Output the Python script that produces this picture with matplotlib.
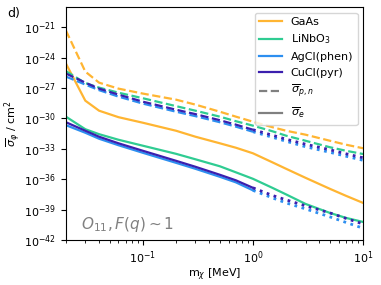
import numpy as np
import matplotlib
matplotlib.use("Agg")
import matplotlib.pyplot as plt
from matplotlib.lines import Line2D
from matplotlib.ticker import NullLocator

# ===== DATA (log10 of cross section in cm^2) =====
mass_full = [0.02, 0.03, 0.04, 0.06, 0.1, 0.2, 0.3, 0.5, 0.7, 1.0, 1.5, 2.0, 3.0, 5.0, 7.0, 10.0]
mass_low = [0.02, 0.03, 0.04, 0.06, 0.1, 0.2, 0.3, 0.5, 0.7, 1.0]
mass_high = [1.0, 1.5, 2.0, 3.0, 5.0, 7.0, 10.0]

gaas_pn = [-21.31, -25.37, -26.46, -27.05, -27.54, -28.14, -28.63, -29.33, -29.82, -30.32,
           -30.86, -31.21, -31.60, -32.20, -32.59, -32.94]
gaas_e = [-24.57, -28.24, -29.23, -29.87, -30.42, -31.21, -31.80, -32.45, -32.89, -33.44,
          -34.33, -34.97, -35.86, -36.95, -37.64, -38.34]

linbo3_pn = [-25.32, -26.50, -26.95, -27.45, -28.00, -28.78, -29.23, -29.82, -30.27, -30.71,
             -31.26, -31.70, -32.20, -32.84, -33.19, -33.51]
linbo3_e = [-29.82, -31.06, -31.55, -32.10, -32.69, -33.49, -34.03, -34.72, -35.32, -35.96,
            -36.85, -37.50, -38.44, -39.33, -39.82, -40.22]

agcl_pn = [-25.86, -26.65, -27.20, -27.84, -28.53, -29.33, -29.77, -30.37, -30.81, -31.31]
agcl_pn_ext = [-31.31, -31.85, -32.25, -32.79, -33.34, -33.73, -34.13]
agcl_e = [-30.66, -31.41, -32.00, -32.64, -33.39, -34.38, -34.97, -35.76, -36.31, -37.10]
agcl_e_ext = [-37.10, -37.84, -38.34, -38.93, -39.72, -40.27, -40.84]

cucl_pn = [-25.56, -26.46, -27.05, -27.64, -28.34, -29.13, -29.57, -30.17, -30.61, -31.11]
cucl_pn_ext = [-31.11, -31.65, -32.05, -32.54, -33.09, -33.49, -33.88]
cucl_e = [-30.37, -31.21, -31.80, -32.45, -33.19, -34.18, -34.77, -35.56, -36.11, -36.85]
cucl_e_ext = [-36.85, -37.60, -38.04, -38.63, -39.33, -39.87, -40.42]

labels = ["GaAs", "LiNbO$_3$", "AgCl(phen)", "CuCl(pyr)"]
colors = ["#ffb532", "#2fcc92", "#2d8ff0", "#3b1fae"]

plt.rcParams["font.family"] = ["DejaVu Sans"]
plt.rcParams["font.size"] = 8

fig = plt.figure(figsize=(3.81, 2.85), dpi=100)
ax = fig.add_axes([0.173, 0.158, 0.780, 0.817])

lw = 1.6


def pw(v):
    return np.power(10.0, np.array(v))


# GaAs and LiNbO3 go all the way
ax.plot(mass_full, pw(gaas_pn), "--", color=colors[0], lw=lw)
ax.plot(mass_full, pw(gaas_e), "-", color=colors[0], lw=lw)
ax.plot(mass_full, pw(linbo3_pn), "--", color=colors[1], lw=lw)
ax.plot(mass_full, pw(linbo3_e), "-", color=colors[1], lw=lw)

# AgCl / CuCl: computed up to 1 MeV, dotted above
ax.plot(mass_low, pw(agcl_pn), "--", color=colors[2], lw=lw)
ax.plot(mass_low, pw(agcl_e), "-", color=colors[2], lw=lw)
ax.plot(mass_high, pw(agcl_pn_ext), ":", color=colors[2], lw=2.0)
ax.plot(mass_high, pw(agcl_e_ext), ":", color=colors[2], lw=2.0)

ax.plot(mass_low, pw(cucl_pn), "--", color=colors[3], lw=lw)
ax.plot(mass_low, pw(cucl_e), "-", color=colors[3], lw=lw)
ax.plot(mass_high, pw(cucl_pn_ext), ":", color=colors[3], lw=2.0)
ax.plot(mass_high, pw(cucl_e_ext), ":", color=colors[3], lw=2.0)

ax.set_xscale("log")
ax.set_yscale("log")
ax.set_xlim(0.02, 10)
ax.set_ylim(1e-42, 1e-19)
ax.set_yticks([10.0 ** e for e in range(-42, -20, 3)])
ax.yaxis.set_minor_locator(NullLocator())
ax.tick_params(labelsize=8)

ax.set_xlabel(r"m$_\chi$ [MeV]", labelpad=0)
ax.set_ylabel(r"$\overline{\sigma}_\varphi$ / cm$^2$", labelpad=1)

ax.text(0.05, 0.045, r"$O_{11}, F(q) \sim 1$", transform=ax.transAxes,
        fontsize=11, color="gray")
fig.text(0.018, 0.94, "d)", fontsize=9)

handles = [Line2D([], [], color=c, lw=lw) for c in colors]
handles += [Line2D([], [], color="gray", lw=lw, ls="--"),
            Line2D([], [], color="gray", lw=lw, ls="-")]
ax.legend(handles, labels + [r"$\overline{\sigma}_{p,n}$", r"$\overline{\sigma}_e$"],
          loc="upper right", fontsize=8, borderaxespad=0.5)

plt.savefig("out.png", dpi=100)
